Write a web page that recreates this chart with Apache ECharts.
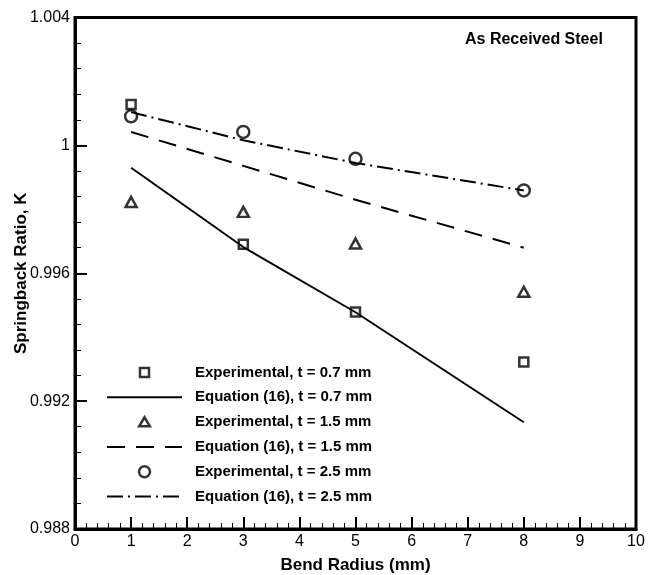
<!DOCTYPE html>
<html>
<head>
<meta charset="utf-8">
<script src="https://cdn.jsdelivr.net/npm/echarts@6/dist/echarts.min.js"></script>
<style>
html, body { margin: 0; padding: 0; background: #fff; }
#chart { width: 661px; height: 575px; }
</style>
</head>
<body>
<div id="chart"></div>
<script>
var radius = [1, 3, 5, 8];
var exp07 = [1.00128, 0.99691, 0.99479, 0.99322];
var eq07 = [0.99930, 0.99682, 0.99478, 0.99134];
var exp15 = [0.99823, 0.99792, 0.99693, 0.99542];
var eq15 = [1.00042, 0.99936, 0.99830, 0.99680];
var exp25 = [1.00091, 1.00042, 0.99958, 0.99859];
var eq25 = [1.00104, 1.00016, 0.99945, 0.99859];

var seriesNames = [
    'Experimental, t = 0.7 mm',
    'Equation (16), t = 0.7 mm',
    'Experimental, t = 1.5 mm',
    'Equation (16), t = 1.5 mm',
    'Experimental, t = 2.5 mm',
    'Equation (16), t = 2.5 mm'
];

var font = "'Liberation Sans', Arial, sans-serif";

function pairs(ys) {
    return radius.map(function (x, i) { return [x, ys[i]]; });
}

// legend icons: extra move points keep the box 12x12 so shapes stay small
var iconSquare = 'path://M0,0M12,12M1.5,1.5L10.5,1.5L10.5,10.5L1.5,10.5Z';
var iconTriangle = 'path://M0,0M12,12M0.6,10.2L6,1.2L11.4,10.2Z';
var iconCircle = 'path://M0,0M12,12M11.5,6A5.5,5.5,0,1,1,0.5,6A5.5,5.5,0,1,1,11.5,6Z';

var hollow = { color: 'transparent', borderColor: '#000', borderWidth: 2.5 };

function scatter(name, ys, symbol, size) {
    return {
        type: 'scatter',
        name: name,
        data: pairs(ys),
        symbol: symbol,
        symbolSize: size,
        itemStyle: hollow,
        z: 3
    };
}

function curve(name, ys, dash) {
    return {
        type: 'line',
        name: name,
        data: pairs(ys),
        symbol: 'none',
        lineStyle: { color: '#000', width: 2, type: dash },
        itemStyle: { color: '#000' },
        z: 2
    };
}

var chart = echarts.init(document.getElementById('chart'));
var options = {
    animation: false,
    textStyle: { fontFamily: font },
    title: {
        text: 'As Received Steel',
        left: 460,
        top: 27,
        textStyle: { fontFamily: font, fontSize: 16, fontWeight: 'bold', color: '#000' }
    },
    legend: {
        orient: 'vertical',
        left: 101,
        top: 360,
        itemWidth: 75,
        itemHeight: 12,
        itemGap: 9.8,
        selectedMode: false,
        textStyle: { fontFamily: font, fontSize: 15, fontWeight: 'bold', color: '#000', padding: [0, 0, 0, 8] },
        data: [
            { name: seriesNames[0], icon: iconSquare, itemStyle: hollow },
            { name: seriesNames[1], itemStyle: { opacity: 0 } },
            { name: seriesNames[2], icon: iconTriangle, itemStyle: hollow },
            { name: seriesNames[3], itemStyle: { opacity: 0 } },
            { name: seriesNames[4], icon: iconCircle, itemStyle: hollow },
            { name: seriesNames[5], itemStyle: { opacity: 0 } }
        ]
    },
    grid: {
        left: 75,
        right: 25,
        top: 17.5,
        bottom: 46,
        outerBoundsMode: 'none',
        containLabel: false,
        show: true,
        borderColor: '#000',
        borderWidth: 3
    },
    xAxis: {
        type: 'value',
        min: 0,
        max: 10,
        interval: 1,
        name: 'Bend Radius (mm)',
        nameLocation: 'middle',
        nameGap: 28,
        nameMoveOverlap: false,
        nameTextStyle: { fontFamily: font, fontSize: 17, fontWeight: 'bold', color: '#000' },
        axisLine: { lineStyle: { color: '#000', width: 3 } },
        axisTick: { inside: true, length: 12, lineStyle: { color: '#000', width: 2 } },
        minorTick: { show: true, splitNumber: 5, length: 6, lineStyle: { color: '#000', width: 1 } },
        axisLabel: { fontFamily: font, fontSize: 16, color: '#000', margin: 5 },
        splitLine: { show: false }
    },
    yAxis: {
        type: 'value',
        min: 0.988,
        max: 1.004,
        interval: 0.004,
        name: 'Springback Ratio, K',
        nameLocation: 'middle',
        nameGap: 45,
        nameMoveOverlap: false,
        nameTextStyle: { fontFamily: font, fontSize: 17, fontWeight: 'bold', color: '#000' },
        axisLine: { lineStyle: { color: '#000', width: 3 } },
        axisTick: { inside: true, length: 12, lineStyle: { color: '#000', width: 2 } },
        minorTick: { show: true, splitNumber: 5, length: 6, lineStyle: { color: '#000', width: 1 } },
        axisLabel: { fontFamily: font, fontSize: 16, color: '#000', margin: 5 },
        splitLine: { show: false }
    },
    series: [
        scatter(seriesNames[0], exp07, 'rect', 9),
        curve(seriesNames[1], eq07, 'solid'),
        scatter(seriesNames[2], exp15, 'triangle', [11, 10]),
        curve(seriesNames[3], eq15, [18, 11]),
        scatter(seriesNames[4], exp25, 'circle', 12),
        curve(seriesNames[5], eq25, [16, 5, 2, 5])
    ]
};
chart.setOption(options);
</script>
</body>
</html>
